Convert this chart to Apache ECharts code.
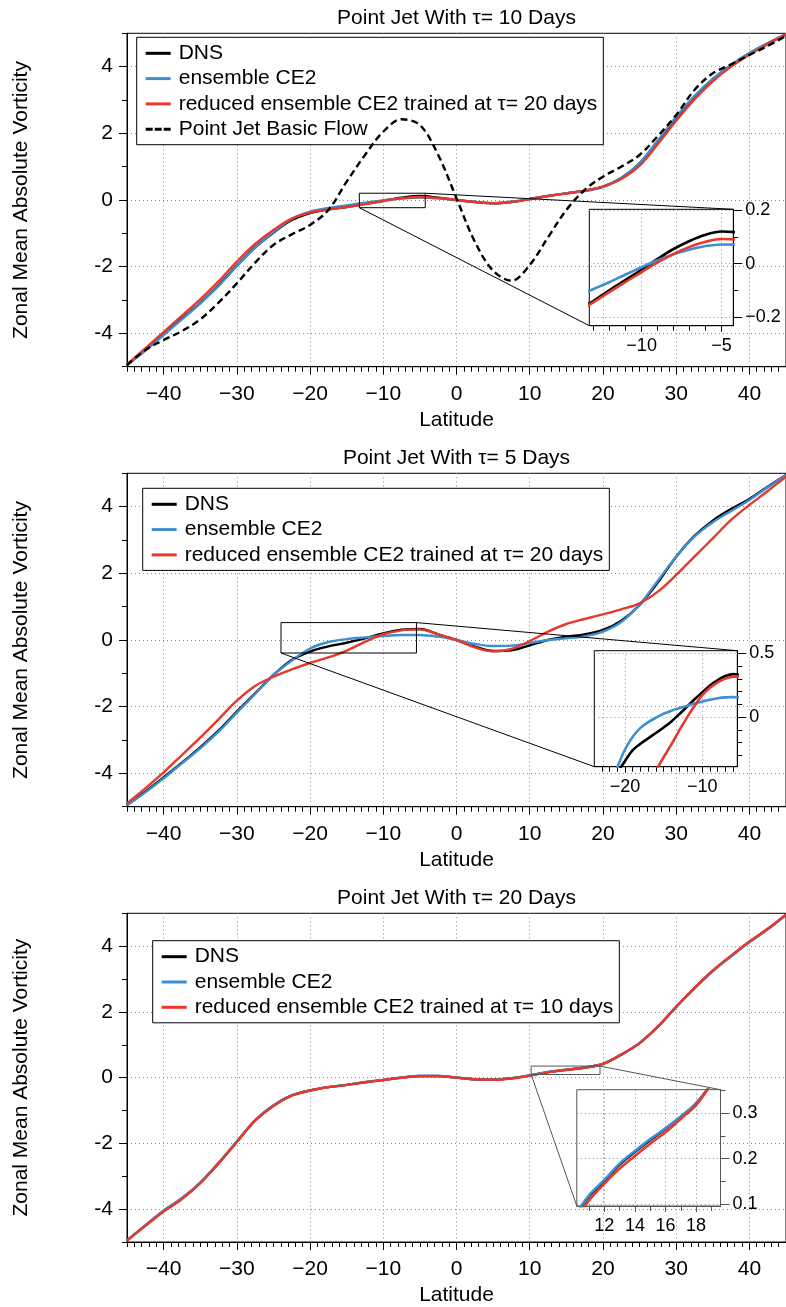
<!DOCTYPE html>
<html>
<head>
<meta charset="utf-8">
<script src="https://cdn.jsdelivr.net/npm/echarts@6/dist/echarts.min.js"></script>
<style>
html,body{margin:0;padding:0;background:#fff;}
#c{width:786px;height:1307px;}
</style>
</head>
<body>
<div id="c"></div>
<script>
// ---------------- DATA ----------------
const lat = [-45,-42.5,-40,-37.5,-35,-32.5,-30,-27.5,-25,-22.5,-20,-17.5,-15,-12.5,-10,-7.5,-5,-2.5,0,2.5,5,7.5,10,12.5,15,17.5,20,22.5,25,27.5,30,32.5,35,37.5,40,42.5,45];

// Panel 1 : tau = 10 days
const p1Dns   = [-4.95,-4.5,-4.03,-3.56,-3.09,-2.56,-1.97,-1.42,-0.98,-0.6,-0.39,-0.28,-0.21,-0.118,-0.022,0.07,0.12,0.07,0.0,-0.06,-0.1,-0.06,0.03,0.12,0.2,0.28,0.4,0.66,1.1,1.76,2.46,3.1,3.62,4.04,4.4,4.7,4.97];
const p1Ce2   = [-4.95,-4.52,-4.05,-3.58,-3.1,-2.58,-1.98,-1.43,-0.97,-0.57,-0.35,-0.24,-0.16,-0.082,-0.013,0.045,0.072,0.05,0.0,-0.05,-0.09,-0.05,0.03,0.12,0.2,0.27,0.39,0.66,1.11,1.79,2.5,3.12,3.64,4.05,4.41,4.7,4.97];
const p1Red   = [-4.93,-4.45,-3.96,-3.47,-2.98,-2.44,-1.85,-1.32,-0.9,-0.56,-0.38,-0.28,-0.21,-0.124,-0.031,0.05,0.092,0.06,0.0,-0.06,-0.1,-0.06,0.03,0.12,0.2,0.28,0.4,0.63,1.03,1.68,2.38,3.02,3.56,4.0,4.36,4.67,4.97];
const p1Basic = [-4.95,-4.5,-4.2,-3.93,-3.58,-3.08,-2.5,-1.88,-1.35,-1.03,-0.75,-0.3,0.55,1.35,2.05,2.42,2.25,1.35,0.05,-1.25,-2.12,-2.42,-1.95,-1.12,-0.3,0.3,0.7,1.0,1.35,1.92,2.55,3.3,3.8,4.07,4.35,4.62,4.92];

// Panel 2 : tau = 5 days
const p2Dns = [-4.95,-4.55,-4.12,-3.68,-3.22,-2.72,-2.15,-1.6,-1.05,-0.6,-0.345,-0.19,-0.082,0.05,0.195,0.31,0.33,0.17,0.0,-0.2,-0.33,-0.31,-0.16,0.0,0.1,0.17,0.3,0.58,1.05,1.73,2.5,3.12,3.58,3.93,4.23,4.6,4.95];
const p2Ce2 = [-4.95,-4.57,-4.15,-3.7,-3.25,-2.75,-2.18,-1.62,-1.05,-0.62,-0.255,-0.06,0.026,0.078,0.122,0.15,0.152,0.1,0.0,-0.12,-0.18,-0.17,-0.09,0.0,0.05,0.11,0.25,0.54,1.06,1.78,2.5,3.1,3.53,3.87,4.2,4.58,4.95];
const p2Red = [-4.9,-4.45,-3.97,-3.45,-2.93,-2.38,-1.82,-1.38,-1.1,-0.88,-0.69,-0.52,-0.316,-0.055,0.172,0.29,0.32,0.17,0.0,-0.22,-0.34,-0.27,-0.03,0.25,0.48,0.63,0.77,0.92,1.1,1.45,1.95,2.5,3.05,3.6,4.05,4.47,4.9];

// Panel 3 : tau = 20 days
const p3Dns = [-4.95,-4.5,-4.06,-3.68,-3.2,-2.6,-1.95,-1.3,-0.85,-0.54,-0.39,-0.29,-0.22,-0.14,-0.07,0.0,0.05,0.05,0.0,-0.05,-0.06,-0.02,0.068,0.17,0.241,0.307,0.42,0.7,1.05,1.55,2.15,2.72,3.25,3.7,4.13,4.52,4.96];
const p3Ce2 = [-4.95,-4.49,-4.04,-3.66,-3.19,-2.6,-1.95,-1.3,-0.85,-0.54,-0.39,-0.29,-0.215,-0.135,-0.068,0.0,0.05,0.05,0.0,-0.05,-0.06,-0.02,0.07,0.172,0.243,0.308,0.42,0.7,1.05,1.55,2.15,2.71,3.24,3.69,4.12,4.51,4.96];
const p3Red = [-4.96,-4.51,-4.07,-3.69,-3.21,-2.61,-1.96,-1.31,-0.86,-0.55,-0.39,-0.29,-0.22,-0.14,-0.07,-0.005,0.045,0.045,0.0,-0.05,-0.062,-0.025,0.06,0.162,0.233,0.3,0.42,0.7,1.05,1.56,2.16,2.73,3.26,3.71,4.14,4.53,4.96];

// Inset 1 (zoom of panel 1)
const in1Lat = [-14,-13,-12,-11,-10,-9,-8,-7,-6,-5,-4];
const in1Dns = [-0.175,-0.138,-0.098,-0.06,-0.022,0.018,0.055,0.085,0.108,0.12,0.117];
const in1Ce2 = [-0.12,-0.094,-0.068,-0.04,-0.013,0.013,0.035,0.053,0.066,0.072,0.071];
const in1Red = [-0.18,-0.143,-0.105,-0.068,-0.031,0.005,0.037,0.063,0.082,0.092,0.09];
const in1X = [-13.27, -4.27];
const in1Y = [-0.231, 0.203];

// Inset 2 (zoom of panel 2)
const in2Lat = [-25,-24,-23,-22,-21,-20,-19,-18,-17,-16,-15,-14,-13,-12,-11,-10,-9,-8,-7,-6,-5];
const in2Dns = [-1.05,-0.82,-0.68,-0.55,-0.44,-0.345,-0.26,-0.21,-0.167,-0.125,-0.082,-0.034,0.021,0.08,0.14,0.195,0.249,0.291,0.323,0.338,0.325];
const in2Ce2 = [-1.0,-0.84,-0.7,-0.55,-0.395,-0.255,-0.155,-0.085,-0.04,-0.005,0.026,0.05,0.07,0.088,0.106,0.122,0.137,0.148,0.155,0.157,0.152];
const in2Red = [-1.1,-1.02,-0.93,-0.85,-0.77,-0.69,-0.62,-0.555,-0.48,-0.415,-0.316,-0.215,-0.107,-0.006,0.089,0.172,0.23,0.273,0.303,0.317,0.32];
const in2X = [-23.97, -5.47];
const in2Y = [-0.39, 0.522];

// Inset 3 (zoom of panel 3)
const in3Lat = [10,11,12,13,14,15,16,17,18,19,20];
const in3Dns = [0.068,0.117,0.151,0.187,0.215,0.241,0.266,0.292,0.322,0.365,0.42];
const in3Ce2 = [0.07,0.119,0.153,0.189,0.217,0.243,0.267,0.293,0.322,0.365,0.42];
const in3Red = [0.06,0.108,0.145,0.178,0.206,0.233,0.258,0.288,0.318,0.365,0.42];
const in3X = [10.2, 19.6];
const in3Y = [0.0956, 0.352];

// Tick labels
const xMainTicks = [-40,-30,-20,-10,0,10,20,30,40];
const yMainTicks = [-4,-2,0,2,4];
const in1XTicks = [-10,-5];
const in1YTicks = [-0.2,0,0.2];
const in2XTicks = [-20,-10];
const in2YTicks = [0,0.5];
const in3XTicks = [12,14,16,18];
const in3YTicks = [0.1,0.2,0.3];

const titles = ['Point Jet With \u03c4= 10 Days','Point Jet With \u03c4= 5 Days','Point Jet With \u03c4= 20 Days'];
const N_DNS = 'DNS', N_CE2 = 'ensemble CE2', N_BASIC = 'Point Jet Basic Flow';
const N_RED20 = 'reduced ensemble CE2 trained at \u03c4= 20 days';
const N_RED10 = 'reduced ensemble CE2 trained at \u03c4= 10 days';

// ---------------- STYLE / LAYOUT ----------------
const FONT = "'Liberation Sans', Arial, Helvetica, sans-serif";
const C_DNS = '#000000', C_CE2 = '#3d8fd1', C_RED = '#e8382b';
const GRIDC = '#8a8a8a';
const steps = (a, b, s) => { const r = []; for (let v = a; v <= b + 1e-9; v += s) r.push(+v.toFixed(4)); return r; };
const fmtMinus = v => (v < 0 ? '\u2212' + String(+(-v).toFixed(4)) : String(+(+v).toFixed(4)));
const fmtPlain = v => String(+(+v).toFixed(4));

const mainL = 127, mainW = 664, mainH = 333.4;
const mainTops = [33.3, 473.3, 913.3];

const grids = [], xAxes = [], yAxes = [], series = [];

function addGrid(g) { grids.push(g); return grids.length - 1; }

function addAxes(gi, o) {
  xAxes.push({
    type: 'value', gridIndex: gi, min: o.x[0], max: o.x[1], position: 'bottom',
    axisLine: { show: true, onZero: false, lineStyle: { color: o.frame, width: 1 } },
    axisTick: { show: true, customValues: o.xMajor, length: o.xMajLen, inside: false, lineStyle: { color: o.frame, width: 1 } },
    axisLabel: { show: true, customValues: o.xMajor, formatter: o.xFmt, color: '#000', fontSize: o.fs, fontFamily: FONT, margin: o.xMargin },
    splitLine: { show: true, lineStyle: { color: GRIDC, type: [1, 3], width: 1 } },
    name: o.xName || '', nameLocation: 'middle', nameGap: o.xNameGap || 0,
    nameTextStyle: { fontSize: 21, fontFamily: FONT, color: '#000' }
  });
  xAxes.push({
    type: 'value', gridIndex: gi, min: o.x[0], max: o.x[1], position: 'bottom',
    axisLine: { show: false, onZero: false },
    axisTick: { show: true, customValues: o.xMinor, length: o.xMinLen, inside: false, lineStyle: { color: o.frame, width: 1 } },
    axisLabel: { show: false }, splitLine: { show: false }
  });
  yAxes.push({
    type: 'value', gridIndex: gi, min: o.y[0], max: o.y[1], position: o.yPos,
    axisLine: { show: true, onZero: false, lineStyle: { color: o.frame, width: 1 } },
    axisTick: { show: true, customValues: o.yMajor, length: o.yMajLen, inside: false, lineStyle: { color: o.frame, width: 1 } },
    axisLabel: { show: true, customValues: o.yMajor, formatter: o.yFmt, color: '#000', fontSize: o.fs, fontFamily: FONT, margin: o.yMargin },
    splitLine: { show: true, lineStyle: { color: GRIDC, type: [1, 3], width: 1 } },
    name: o.yName || '', nameLocation: 'middle', nameGap: o.yNameGap || 0,
    nameTextStyle: { fontSize: 21, fontFamily: FONT, color: '#000' }
  });
  yAxes.push({
    type: 'value', gridIndex: gi, min: o.y[0], max: o.y[1], position: o.yPos,
    axisLine: { show: false, onZero: false },
    axisTick: { show: true, customValues: o.yMinor, length: o.yMinLen, inside: false, lineStyle: { color: o.frame, width: 1 } },
    axisLabel: { show: false }, splitLine: { show: false }
  });
}

function addLine(name, gi, xs, ys, color, dash, width) {
  series.push({
    type: 'line', name: name, xAxisIndex: 2 * gi, yAxisIndex: 2 * gi,
    data: xs.map((x, i) => [x, ys[i]]),
    symbol: 'none', showSymbol: false, smooth: 0.35, clip: true, silent: true, z: 5,
    lineStyle: { color: color, width: width || 2.4, type: dash || 'solid' },
    itemStyle: { color: color }
  });
}

function addRect(gi, xr, yr, color) {
  series.push({
    type: 'line', name: '', xAxisIndex: 2 * gi, yAxisIndex: 2 * gi,
    data: [[xr[0], yr[0]], [xr[1], yr[0]], [xr[1], yr[1]], [xr[0], yr[1]], [xr[0], yr[0]]],
    symbol: 'none', showSymbol: false, smooth: false, silent: true, z: 6,
    lineStyle: { color: color, width: 1 }, itemStyle: { color: color }
  });
}

const panelData = [
  { dns: p1Dns, ce2: p1Ce2, red: p1Red, redName: N_RED20, basic: p1Basic },
  { dns: p2Dns, ce2: p2Ce2, red: p2Red, redName: N_RED20 },
  { dns: p3Dns, ce2: p3Ce2, red: p3Red, redName: N_RED10 }
];

panelData.forEach((p, i) => {
  const gi = addGrid({ left: mainL, top: mainTops[i], width: mainW, height: mainH, show: true, borderColor: '#000', borderWidth: 1, backgroundColor: 'transparent' });
  addAxes(gi, {
    x: [-45, 45], y: [-5, 5], frame: '#000', fs: 21,
    xMajor: xMainTicks, xMinor: steps(-45, 45, 1), xMajLen: 8, xMinLen: 5, xFmt: fmtMinus, xMargin: 17,
    yMajor: yMainTicks, yMinor: steps(-5, 5, 1), yMajLen: 8, yMinLen: 5, yFmt: fmtPlain, yMargin: 14, yPos: 'left',
    xName: 'Latitude', xNameGap: 43, yName: 'Zonal Mean Absolute Vorticity', yNameGap: 95
  });
  addLine(N_DNS, gi, lat, p.dns, C_DNS);
  addLine(N_CE2, gi, lat, p.ce2, C_CE2);
  addLine(p.redName, gi, lat, p.red, C_RED);
  if (p.basic) addLine(N_BASIC, gi, lat, p.basic, C_DNS, [7, 4]);
});

const insets = [
  { main: 0, left: 589.3, top: 209.3, width: 144, height: 116.4, x: in1X, y: in1Y, lat: in1Lat, dns: in1Dns, ce2: in1Ce2, red: in1Red,
    xMajor: in1XTicks, xMinor: steps(-13, -5, 1), yMajor: in1YTicks, yMinor: steps(-0.2, 0.2, 0.1), frame: '#000' },
  { main: 1, left: 594.3, top: 650.7, width: 143, height: 116, x: in2X, y: in2Y, lat: in2Lat, dns: in2Dns, ce2: in2Ce2, red: in2Red,
    xMajor: in2XTicks, xMinor: steps(-23, -6, 1), yMajor: in2YTicks, yMinor: steps(-0.3, 0.5, 0.1), frame: '#000' },
  { main: 2, left: 576.8, top: 1089.7, width: 143.7, height: 116.3, x: in3X, y: in3Y, lat: in3Lat, dns: in3Dns, ce2: in3Ce2, red: in3Red,
    xMajor: in3XTicks, xMinor: steps(11, 19, 1), yMajor: in3YTicks, yMinor: steps(0.1, 0.35, 0.05), frame: '#555' }
];

insets.forEach(ins => {
  const gi = addGrid({ left: ins.left, top: ins.top, width: ins.width, height: ins.height, show: true, borderColor: ins.frame, borderWidth: 1, backgroundColor: 'transparent' });
  ins.gi = gi;
  addAxes(gi, {
    x: ins.x, y: ins.y, frame: ins.frame, fs: 18,
    xMajor: ins.xMajor, xMinor: ins.xMinor, xMajLen: 6, xMinLen: 5, xFmt: fmtMinus, xMargin: 11,
    yMajor: ins.yMajor, yMinor: ins.yMinor, yMajLen: 9, yMinLen: 5, yFmt: fmtMinus, yMargin: 12, yPos: 'right'
  });
  addLine(N_DNS, gi, ins.lat, ins.dns, C_DNS, null, 2.6);
  addLine(N_CE2, gi, ins.lat, ins.ce2, C_CE2, null, 2.6);
  addLine(panelData[ins.main].redName, gi, ins.lat, ins.red, C_RED, null, 2.6);
  addRect(ins.main, ins.x, ins.y, ins.frame);
});

const DASH_ICON = 'path://M0,0h7v3h-7z M9,0h7v3h-7z M18,0h7v3h-7z';
const legendBase = {
  orient: 'vertical', selectedMode: false, itemWidth: 25, itemHeight: 3, itemGap: 4.3,
  backgroundColor: '#fff', borderColor: '#000', borderWidth: 1, z: 4,
  padding: [5.5, 6, 5, 9],
  textStyle: { fontSize: 21, fontFamily: FONT, color: '#000', padding: [0, 0, 0, 3] }
};
const legendItems = names => names.map(n => ({ name: n, icon: n === N_BASIC ? DASH_ICON : 'rect' }));
const legends = [
  Object.assign({}, legendBase, { left: 136.7, top: 37.3, data: legendItems([N_DNS, N_CE2, N_RED20, N_BASIC]) }),
  Object.assign({}, legendBase, { left: 142.7, top: 488.3, data: legendItems([N_DNS, N_CE2, N_RED20]) }),
  Object.assign({}, legendBase, { left: 152.7, top: 940.7, data: legendItems([N_DNS, N_CE2, N_RED10]) })
];

const chart = echarts.init(document.getElementById('c'), null, { renderer: 'canvas' });
chart.setOption({
  animation: false,
  backgroundColor: '#fff',
  textStyle: { fontFamily: FONT },
  grid: grids,
  xAxis: xAxes,
  yAxis: yAxes,
  legend: legends,
  series: series
});

// titles + zoom connector lines (positions from the library's own scales)
const graphics = [];
titles.forEach((t, i) => {
  const p = chart.convertToPixel({ xAxisIndex: 2 * i, yAxisIndex: 2 * i }, [0, 5]);
  graphics.push({ type: 'text', x: p[0], y: p[1] - 15, silent: true, z: 10,
    style: { text: t, fontSize: 21, fontFamily: FONT, fill: '#000', align: 'center', verticalAlign: 'middle' } });
});
insets.forEach(ins => {
  const m = { xAxisIndex: 2 * ins.main, yAxisIndex: 2 * ins.main };
  const s = { xAxisIndex: 2 * ins.gi, yAxisIndex: 2 * ins.gi };
  const a1 = chart.convertToPixel(m, [ins.x[1], ins.y[1]]);
  const b1 = chart.convertToPixel(s, [ins.x[1], ins.y[1]]);
  const a2 = chart.convertToPixel(m, [ins.x[0], ins.y[0]]);
  const b2 = chart.convertToPixel(s, [ins.x[0], ins.y[0]]);
  [[a1, b1], [a2, b2]].forEach(([a, b]) => {
    graphics.push({ type: 'line', silent: true, z: 10,
      shape: { x1: a[0], y1: a[1], x2: b[0], y2: b[1] },
      style: { stroke: ins.frame, lineWidth: 1 } });
  });
});
chart.setOption({ graphic: graphics });
</script>
</body>
</html>
